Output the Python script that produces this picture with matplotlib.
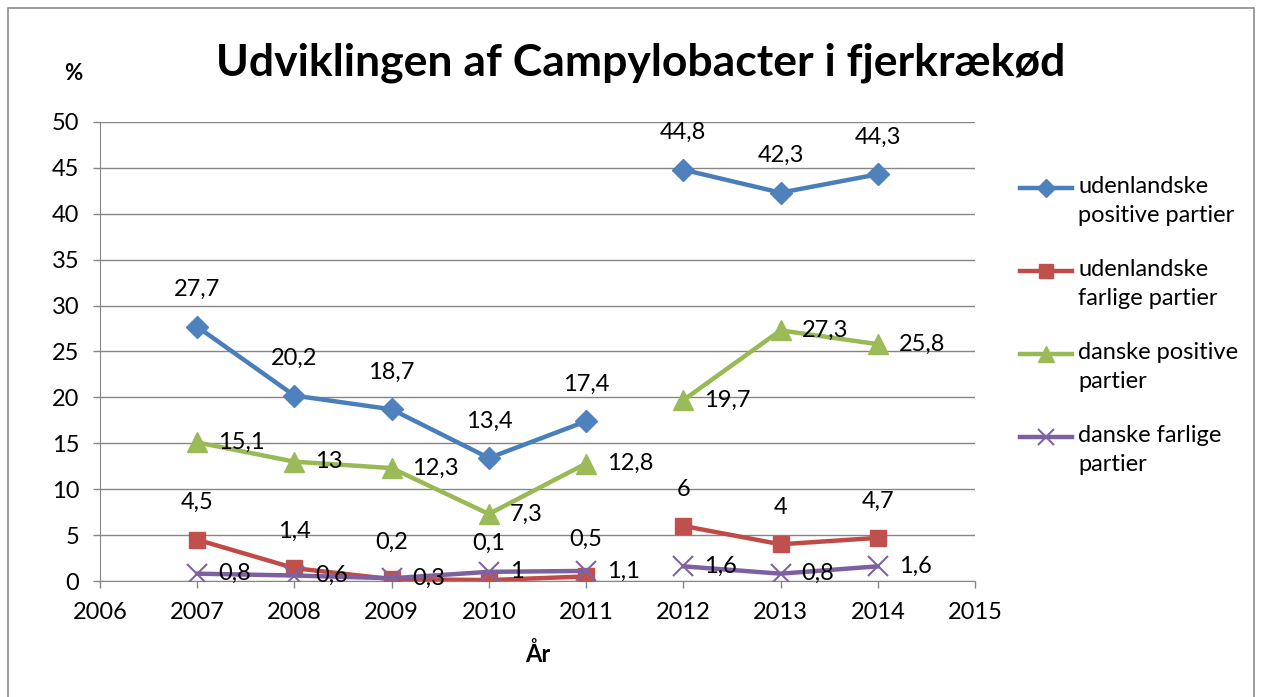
import matplotlib
matplotlib.use("Agg")
import matplotlib.pyplot as plt
from matplotlib.patches import Rectangle
from matplotlib.lines import Line2D

plt.rcParams['font.family'] = ['Lato', 'DejaVu Sans']

years = [2007, 2008, 2009, 2010, 2011, 2012, 2013, 2014]
udl_pos = [27.7, 20.2, 18.7, 13.4, 17.4, 44.8, 42.3, 44.3]
udl_farl = [4.5, 1.4, 0.2, 0.1, 0.5, 6, 4, 4.7]
dk_pos = [15.1, 13, 12.3, 7.3, 12.8, 19.7, 27.3, 25.8]
dk_farl = [0.8, 0.6, 0.3, 1, 1.1, 1.6, 0.8, 1.6]
labels = ["udenlandske\npositive partier", "udenlandske\nfarlige partier",
          "danske positive\npartier", "danske farlige\npartier"]
split = 5  # break in series between 2011 and 2012

W, H = 1262, 697
fig = plt.figure(figsize=(W / 100, H / 100), dpi=100)
ax = fig.add_axes([0.0792, 0.1664, 0.6934, 0.6586])

fig.patches.append(Rectangle((0.006, -0.01), 0.988, 0.999, transform=fig.transFigure,
                             fill=False, edgecolor='#8c8c8c', linewidth=1.2))

series = [
    (udl_pos, '#4A7EBB', '#4F81BD', 'D', 11, 'above'),
    (udl_farl, '#BE4B48', '#C0504D', 's', 12, 'above'),
    (dk_pos, '#98B954', '#9BBB59', '^', 14, 'right'),
    (dk_farl, '#7D60A0', '#8064A2', 'x', 14, 'right'),
]

fs = 17
for k, ((vals, lc, mc, mk, ms, pos), lab) in enumerate(zip(series, labels)):
    kw = dict(color=lc, linewidth=3.2, marker=mk, markersize=ms,
              markerfacecolor=mc, markeredgecolor=mc)
    if mk == 'x':
        kw['markeredgewidth'] = 1.5
    for xs, ys in [(years[:split], vals[:split]), (years[split:], vals[split:])]:
        ax.plot(xs, ys, zorder=3, **kw)
    for x, y in zip(years, vals):
        s = f"{y:g}".replace('.', ',')
        if pos == 'above':
            ax.annotate(s, (x, y), xytext=(0, 19), textcoords='offset points',
                        ha='center', va='bottom', fontsize=fs, color='black', zorder=4)
        else:
            ax.annotate(s, (x, y), xytext=(15, 0), textcoords='offset points',
                        ha='left', va='center', fontsize=fs, color='black', zorder=4)
    # legend entry (handle aligned with first text line, as in the original)
    ly = 1 - (188 + 83 * k) / H
    fig.lines.append(Line2D([1020 / W, 1072 / W], [ly, ly], transform=fig.transFigure,
                            linewidth=3.2, color=lc))
    fig.lines.append(Line2D([1046 / W], [ly], transform=fig.transFigure, linestyle='none',
                            marker=mk, markersize=ms * 0.8, markerfacecolor=mc,
                            markeredgecolor=mc, markeredgewidth=kw.get('markeredgewidth', 1)))
    fig.text(1078 / W, ly + 12 / H, lab, fontsize=fs, ha='left', va='top', linespacing=1.45)

ax.set_xlim(2006, 2015)
ax.set_ylim(0, 50)
ax.set_xticks(range(2006, 2016))
ax.set_yticks(range(0, 51, 5))
ax.tick_params(labelsize=fs, length=5, color='#868686', width=1)
ax.grid(axis='y', color='#868686', linewidth=1)
ax.set_axisbelow(True)
for sp in ['top', 'right']:
    ax.spines[sp].set_visible(False)
for sp in ['left', 'bottom']:
    ax.spines[sp].set_color('#868686')
ax.tick_params(axis='x', pad=10)
ax.tick_params(axis='y', pad=10)

ax.set_xlabel('År', fontsize=fs, fontweight='bold', labelpad=14)
fig.text(0.051, 0.895, '%', fontsize=fs - 1, fontweight='bold', ha='left', va='center')
fig.text(0.508, 0.91, 'Udviklingen af Campylobacter i fjerkrækød', fontsize=32,
         fontweight='bold', ha='center', va='center')

fig.savefig('out.png', dpi=100)
